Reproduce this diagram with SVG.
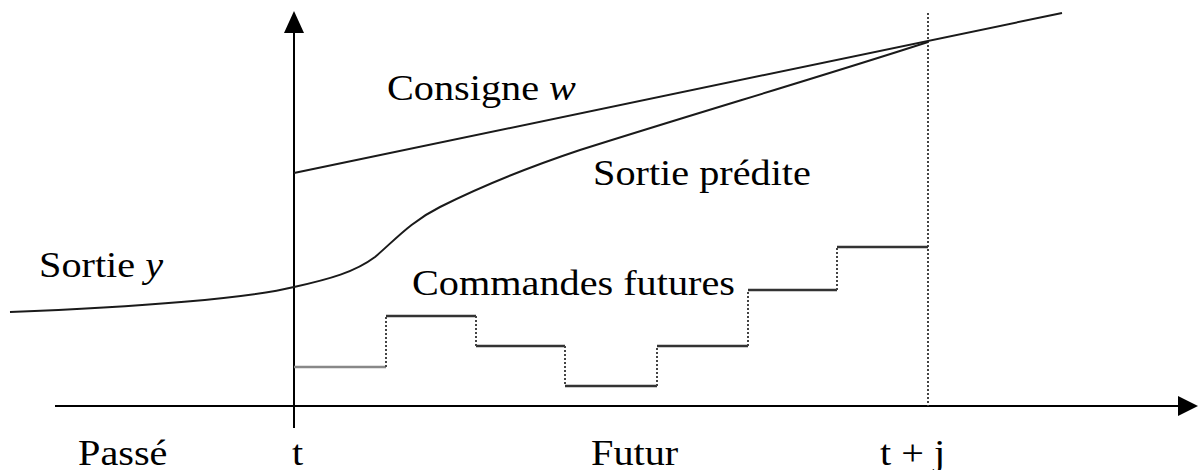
<svg xmlns="http://www.w3.org/2000/svg" width="1203" height="470" viewBox="0 0 1203 470">
<style>
.lbl{font-family:"Liberation Serif","Times New Roman",serif;font-size:35px;fill:#000}
.it{font-style:italic}
.axis{stroke:#000;stroke-width:2;fill:none}
.curve{stroke:#1a1a1a;stroke-width:2;fill:none}
.step{stroke:#333;stroke-width:2.5;fill:none}
.dot{stroke:#444;stroke-width:2;stroke-dasharray:2 2;fill:none}
</style>
<rect width="1203" height="470" fill="#fff"/>
<g id="axes">
  <line class="axis" x1="294" y1="30" x2="294" y2="428"/>
  <polygon points="294,11 284,33 304,33" fill="#000"/>
  <line class="axis" x1="55" y1="406" x2="1182" y2="406"/>
  <polygon points="1198,406 1178,396 1178,416" fill="#000"/>
</g>
<g id="horizon">
  <line class="dot" x1="928" y1="13" x2="928" y2="406"/>
</g>
<g id="consigne">
  <line class="curve" x1="294" y1="173" x2="1062" y2="13"/>
</g>
<g id="sortie">
  <path class="curve" d="M10,312 C140,307 250,298 294,287 C330,279 355,272 375,257 C395,240 410,222 440,207 C470,192 520,170 580,150 C700,112 820,77 928,42"/>
</g>
<g id="commandes">
  <line x1="294" y1="367" x2="386" y2="367" stroke="#888" stroke-width="2.5"/>
  <path class="step" d="M386,316 H476 M476,346 H565 M565,386 H657 M657,346 H748 M748,290 H837 M837,247 H928"/>
  <path class="dot" d="M386,367 V316 M476,316 V346 M565,346 V386 M657,386 V346 M748,346 V290 M837,290 V247"/>
</g>
<g id="labels">
  <text class="lbl" transform="matrix(1.15,0,0,1,387,100)">Consigne <tspan class="it">w</tspan></text>
  <text class="lbl" transform="matrix(1.15,0,0,1,593,185)">Sortie prédite</text>
  <text class="lbl" transform="matrix(1.15,0,0,1,39,277)">Sortie <tspan class="it">y</tspan></text>
  <text class="lbl" transform="matrix(1.15,0,0,1,412,295)">Commandes futures</text>
  <text class="lbl" transform="matrix(1.15,0,0,1,78,465)">Passé</text>
  <text class="lbl" transform="matrix(1.15,0,0,1,292,465)">t</text>
  <text class="lbl" transform="matrix(1.15,0,0,1,591,465)">Futur</text>
  <text class="lbl" transform="matrix(1.15,0,0,1,880,465)">t + j</text>
</g>
</svg>
